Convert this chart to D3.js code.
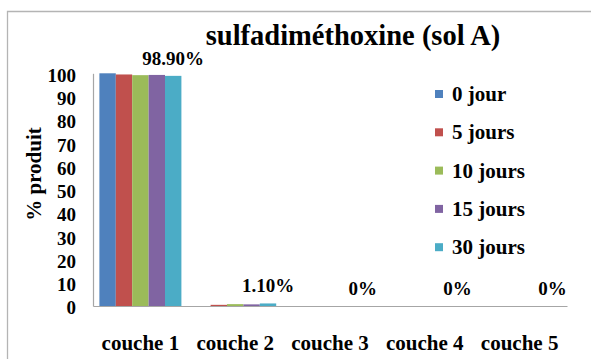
<!DOCTYPE html>
<html>
<head>
<meta charset="utf-8">
<script src="https://cdn.jsdelivr.net/npm/d3@7"></script>
<style>
  html, body { margin: 0; padding: 0; background: #fff; }
  svg { display: block; }
</style>
</head>
<body>
<svg id="chart" width="591" height="359"></svg>
<script>
// Soil layers (x categories)
const categories = ["couche 1", "couche 2", "couche 3", "couche 4", "couche 5"];
// Incubation times (series)
const seriesNames = ["0 jour", "5 jours", "10 jours", "15 jours", "30 jours"];
const seriesColors = ["#4F81BD", "#C0504D", "#9BBB59", "#8064A2", "#4BACC6"];
// % of product found in each layer, one array per incubation time
const values0 = [100, 0, 0, 0, 0];
const values5 = [99.5, 0.5, 0, 0, 0];
const values10 = [99.2, 0.8, 0, 0, 0];
const values15 = [99.3, 0.7, 0, 0, 0];
const values30 = [98.9, 1.1, 0, 0, 0];
// Labelled series (30 jours) and its printed labels
const labelTexts = ["98.90%", "1.10%", "0%", "0%", "0%"];
const yTicks = [0, 10, 20, 30, 40, 50, 60, 70, 80, 90, 100];

const seriesValues = [values0, values5, values10, values15, values30];

const setFont = (sel, size) => sel
  .attr("font-family", "Liberation Serif")
  .style("font-family", '"Liberation Serif"')
  .style("font-weight", "bold")
  .style("font-size", size)
  .attr("fill", "#000");

const svg = d3.select("#chart");

// chart frame
svg.append("path")
  .attr("d", "M7.5,600 V11.5 H600")
  .attr("fill", "none")
  .attr("stroke", "#b4b4b4")
  .attr("stroke-width", 1.3);

const plot = { left: 93, right: 567, top: 73.3, bottom: 306 };

const x0 = d3.scaleBand()
  .domain(categories)
  .range([plot.left, plot.right])
  .paddingInner(0.135)
  .paddingOuter(0.0675);

const x1 = d3.scaleBand()
  .domain(seriesNames)
  .range([0, x0.bandwidth()]);

const y = d3.scaleLinear().domain([0, 100]).range([plot.bottom, plot.top]);

// bars
seriesNames.forEach((name, si) => {
  svg.append("g")
    .selectAll("rect")
    .data(categories.map((c, ci) => ({ c, v: seriesValues[si][ci] })))
    .join("rect")
    .attr("x", d => x0(d.c) + x1(name))
    .attr("width", x1.bandwidth())
    .attr("y", d => y(d.v))
    .attr("height", d => plot.bottom - y(d.v))
    .attr("fill", seriesColors[si]);
});

// y axis (labels only, no tick marks)
const yAxis = svg.append("g")
  .attr("transform", `translate(${plot.left},0)`)
  .call(d3.axisLeft(y).tickValues(yTicks).tickSize(0).tickPadding(17).tickFormat(d3.format("d")));
yAxis.attr("font-family", "Liberation Serif");
yAxis.select(".domain").attr("stroke", "#a6a6a6").attr("stroke-width", 1.2);
setFont(yAxis.selectAll("text"), "19px").attr("dy", "0.42em");

// x axis (category labels, no tick marks)
const xAxis = svg.append("g")
  .attr("transform", `translate(0,${plot.bottom})`)
  .call(d3.axisBottom(x0).tickSize(0).tickPadding(29));
xAxis.attr("font-family", "Liberation Serif");
xAxis.select(".domain").attr("stroke", "#a6a6a6").attr("stroke-width", 1.2);
setFont(xAxis.selectAll("text"), "21px");

// data labels on the 30 jours series
const lastName = seriesNames[seriesNames.length - 1];
setFont(svg.append("g")
  .selectAll("text")
  .data(categories.map((c, ci) => ({ c, v: values30[ci], t: labelTexts[ci] })))
  .join("text")
  .attr("x", d => x0(d.c) + x1(lastName) + x1.bandwidth() / 2)
  .attr("y", d => y(d.v) - 11)
  .attr("text-anchor", "middle")
  .text(d => d.t), "19px");

// title
setFont(svg.append("text")
  .attr("x", 353)
  .attr("y", 45)
  .attr("text-anchor", "middle")
  .text("sulfadiméthoxine (sol A)"), "28.5px");

// y axis title
setFont(svg.append("text")
  .attr("transform", "translate(41,174) rotate(-90)")
  .attr("text-anchor", "middle")
  .text("% produit"), "21px");

// legend
const legend = svg.append("g");
seriesNames.forEach((name, i) => {
  const cy = 94 + i * 38.3;
  legend.append("rect")
    .attr("x", 435).attr("y", cy - 4)
    .attr("width", 8).attr("height", 8)
    .attr("fill", seriesColors[i]);
  setFont(legend.append("text")
    .attr("x", 452).attr("y", cy + 7)
    .text(name), "21px");
});
</script>
</body>
</html>
